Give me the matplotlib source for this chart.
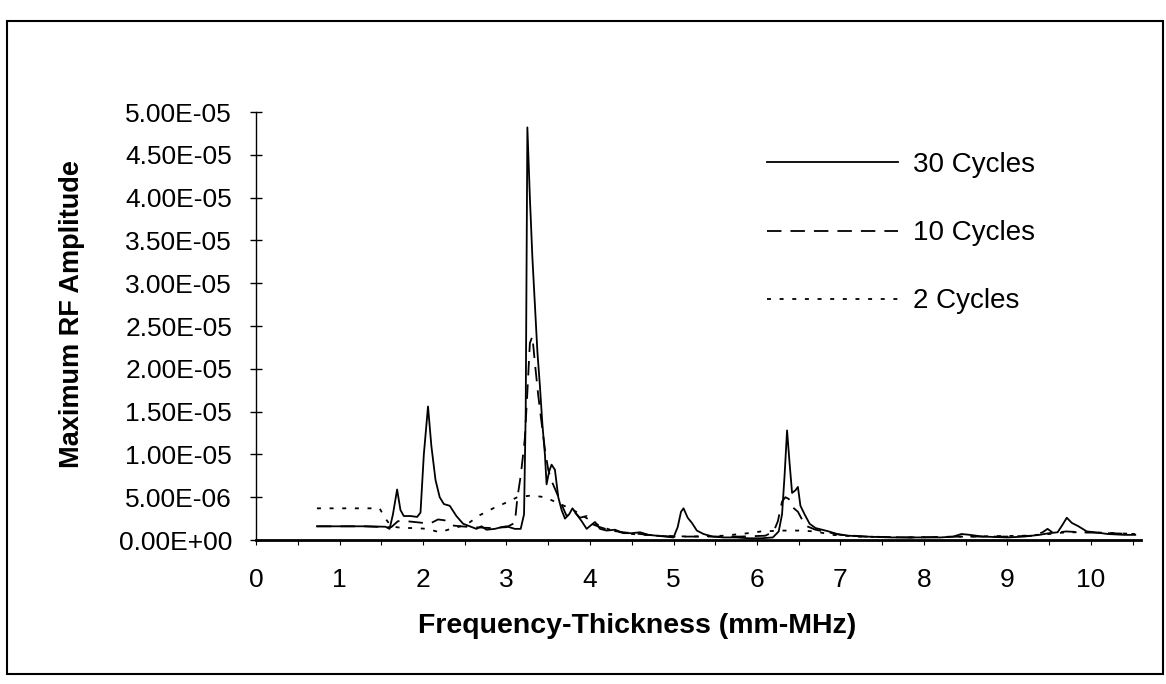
import matplotlib
matplotlib.use("Agg")
import matplotlib.pyplot as plt
from matplotlib.ticker import FuncFormatter, MultipleLocator
from matplotlib.patches import Rectangle

plt.rcParams['font.family'] = ['Liberation Sans', 'DejaVu Sans']

SCALE = 1e-6

# 30 cycles (solid)
x30 = [0.73, 1.0, 1.3, 1.55, 1.6, 1.64, 1.69, 1.73, 1.77, 1.85, 1.93, 1.97, 2.01, 2.06,
       2.1, 2.15, 2.2, 2.25, 2.32, 2.4, 2.48, 2.56, 2.64, 2.7, 2.76, 2.86, 2.94, 3.0,
       3.1, 3.17, 3.21, 3.23, 3.25, 3.28, 3.31, 3.34, 3.37, 3.4, 3.43, 3.46, 3.48, 3.51,
       3.54, 3.58, 3.62, 3.66, 3.7, 3.75, 3.79, 3.84, 3.9, 3.96, 4.02, 4.06, 4.12, 4.2,
       4.3, 4.4, 4.5, 4.6, 4.7, 4.8, 4.9, 5.0, 5.05, 5.09, 5.12, 5.17, 5.22, 5.28, 5.36,
       5.47, 5.6, 5.75, 5.9, 6.05, 6.19, 6.26, 6.3, 6.33, 6.36, 6.39, 6.42, 6.46, 6.49,
       6.52, 6.57, 6.63, 6.7, 6.78, 6.86, 6.96, 7.1, 7.3, 7.6, 7.9, 8.2, 8.35, 8.45, 8.55,
       8.7, 9.0, 9.2, 9.38, 9.5, 9.6, 9.66, 9.71, 9.77, 9.85, 9.95, 10.05, 10.2, 10.4, 10.53]
y30 = [1.6, 1.6, 1.6, 1.55, 1.3, 3.0, 5.9, 3.5, 2.8, 2.8, 2.7, 3.2, 10.0, 15.6,
       11.0, 7.0, 5.0, 4.2, 4.0, 2.8, 1.9, 1.6, 1.3, 1.6, 1.2, 1.3, 1.5, 1.6,
       1.3, 1.3, 3.0, 15.0, 48.2, 40.0, 33.0, 27.5, 22.0, 18.0, 13.5, 10.0, 6.5, 8.0,
       8.8, 8.2, 5.0, 3.5, 2.5, 3.0, 3.7, 3.0, 2.2, 1.3, 1.8, 2.1, 1.3, 1.1,
       1.2, 0.8, 0.8, 0.9, 0.6, 0.5, 0.4, 0.3, 1.5, 3.3, 3.7, 2.6, 2.0, 1.1, 0.7,
       0.4, 0.3, 0.3, 0.2, 0.2, 0.3, 1.0, 3.0, 7.5, 12.8, 9.0, 5.5, 5.8, 6.2,
       4.0, 3.0, 1.9, 1.4, 1.2, 1.0, 0.7, 0.5, 0.4, 0.3, 0.3, 0.3, 0.4, 0.7, 0.6,
       0.4, 0.3, 0.4, 0.6, 0.8, 0.9, 1.8, 2.6, 2.0, 1.6, 1.0, 0.9, 0.7, 0.6, 0.6]

# 10 cycles (dashed)
x10 = [0.73, 1.3, 1.55, 1.62, 1.7, 1.8, 1.9, 2.0, 2.1, 2.18, 2.26, 2.35, 2.45, 2.6, 2.8,
       3.0, 3.1, 3.13, 3.17, 3.19, 3.22, 3.25, 3.28, 3.31, 3.34, 3.38, 3.42, 3.46, 3.5,
       3.54, 3.58, 3.64, 3.72, 3.8, 3.88, 3.96, 4.04, 4.12, 4.25, 4.4, 4.6, 4.8, 5.0,
       5.2, 5.5, 5.8, 6.1, 6.2, 6.25, 6.3, 6.34, 6.38, 6.43, 6.49, 6.55, 6.6, 6.7, 6.85,
       7.0, 7.3, 7.8, 8.5, 9.0, 9.3, 9.42, 9.48, 9.55, 9.7, 9.9, 10.2, 10.53]
y10 = [1.6, 1.6, 1.5, 1.5, 2.2, 2.2, 2.1, 2.0, 2.0, 2.4, 2.3, 1.7, 1.6, 1.5, 1.4,
       1.5, 2.0, 4.9, 7.5, 9.2, 11.9, 17.3, 23.0, 23.8, 20.7, 16.9, 13.7, 10.6, 8.2,
       6.9, 6.0, 4.6, 2.8, 3.4, 2.6, 2.8, 1.8, 1.5, 1.1, 0.9, 0.7, 0.5, 0.4,
       0.4, 0.4, 0.4, 0.5, 1.0, 2.2, 4.5, 5.0, 4.8, 3.8, 3.3, 2.2, 1.6, 1.2, 0.9,
       0.6, 0.4, 0.3, 0.4, 0.4, 0.5, 0.9, 1.3, 0.8, 1.0, 0.9, 0.8, 0.7]

# 2 cycles (dotted)
x2 = [0.73, 1.0, 1.3, 1.48, 1.55, 1.62, 1.75, 1.9, 2.05, 2.2, 2.3, 2.45, 2.55, 2.68,
      2.84, 2.98, 3.13, 3.3, 3.46, 3.62, 3.78, 3.92, 4.05, 4.15, 4.3, 4.5, 4.8, 5.2,
      5.6, 5.9, 6.05, 6.3, 6.5, 6.7, 6.9, 7.2, 7.8, 8.5, 9.2, 9.5, 9.7, 10.0, 10.3, 10.53]
y2 = [3.7, 3.7, 3.7, 3.7, 2.5, 1.6, 1.4, 1.4, 1.3, 0.9, 1.2, 1.6, 2.0, 2.9,
      3.7, 4.3, 5.0, 5.2, 5.0, 4.3, 3.6, 2.8, 2.0, 1.5, 1.0, 0.7, 0.5, 0.4,
      0.5, 0.8, 1.0, 1.1, 1.1, 1.0, 0.6, 0.4, 0.3, 0.4, 0.5, 0.7, 0.9, 0.9, 0.8, 0.7]

series_labels = ["30 Cycles", "10 Cycles", "2 Cycles"]
x_ticks = list(range(0, 11))
y_ticks = [i * 5e-6 for i in range(0, 11)]

W, H = 1166, 684
fig = plt.figure(figsize=(W / 100, H / 100), dpi=100)
fig.patch.set_facecolor('white')

# outer chart border
fig.add_artist(Rectangle((7 / W, 1 - 674 / H), (1163 - 7) / W, (674 - 21) / H,
                         transform=fig.transFigure, fill=False, lw=1.5, ec='black'))

left, right = 256, 1141
bottom, top = 540, 112
xmax = (right - left) / 83.5
ax = fig.add_axes([left / W, 1 - bottom / H, (right - left) / W, (bottom - top) / H])

ax.plot(x30, [v * SCALE for v in y30], color='black', lw=1.3, ls='-', label=series_labels[0])
ax.plot(x10, [v * SCALE for v in y10], color='black', lw=1.3, ls=(0, (8, 5)), label=series_labels[1])
ax.plot(x2, [v * SCALE for v in y2], color='black', lw=1.3, ls=(0, (2.2, 4.8)), label=series_labels[2])

ax.set_xlim(0, xmax)
ax.set_ylim(0, 5e-5)

for s in ['top', 'right']:
    ax.spines[s].set_visible(False)
ax.spines['bottom'].set_linewidth(2.0)
ax.spines['left'].set_linewidth(1.0)

ax.set_xticks(x_ticks)
ax.xaxis.set_minor_locator(MultipleLocator(0.5))
ax.set_yticks(y_ticks)
ax.yaxis.set_major_formatter(FuncFormatter(lambda v, p: f"{v:.2E}"))

ax.tick_params(axis='y', direction='inout', length=8.5, width=1.0, pad=13, labelsize=19)
ax.tick_params(axis='x', which='both', direction='out', length=3.5, width=0.8, pad=17, labelsize=19)

fig.text(637 / W, 1 - 633 / H, "Frequency-Thickness (mm-MHz)", ha='center', va='baseline',
         fontsize=20.5, fontweight='bold')
fig.text(72 / W, 1 - 314 / H, "Maximum RF Amplitude", ha='center', va='center',
         rotation=90, fontsize=19.5, fontweight='bold')

ax.legend(loc='upper left', bbox_to_anchor=(767 / W, 1 - 152 / H), bbox_transform=fig.transFigure,
          frameon=False, fontsize=20, handlelength=4.7, handletextpad=0.55,
          labelspacing=1.52, borderpad=0, borderaxespad=0)

fig.savefig("out.png", dpi=100, facecolor='white')
